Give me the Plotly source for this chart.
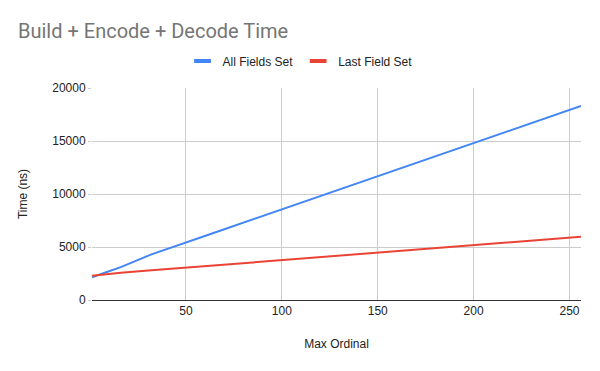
import plotly.graph_objects as go

ordinals = [1, 2, 4, 8, 16, 32, 64, 128, 256]
all_fields = [2130, 2200, 2350, 2600, 3100, 4300, 6300, 10300, 18300]
last_field = [2290, 2310, 2350, 2430, 2580, 2800, 3250, 4150, 5970]

series_names = ["All Fields Set", "Last Field Set"]
series_colors = ["#4285F4", "#EA4335"]

x_ticks = [50, 100, 150, 200, 250]
y_ticks = [0, 5000, 10000, 15000, 20000]
y_tick_labels = ["0", "5000", "10000", "15000", "20000"]

ARIAL = "Arial, Liberation Sans, sans-serif"

fig = go.Figure()
for name, vals, col in zip(series_names, [all_fields, last_field], series_colors):
    fig.add_trace(go.Scatter(x=ordinals, y=vals, mode="lines", name=name, showlegend=False,
                             line=dict(color=col, width=2)))
# legend-only entries with short thick bar symbols
for name, col in zip(series_names, series_colors):
    fig.add_trace(go.Scatter(x=[None], y=[None], mode="markers", name=name,
                             marker=dict(symbol="line-ew", size=12, color=col,
                                         line=dict(color=col, width=4))))

fig.update_layout(
    width=600, height=371,
    margin=dict(l=92, r=19, t=88, b=71, autoexpand=False),
    paper_bgcolor="white", plot_bgcolor="white",
    font=dict(family=ARIAL, size=12, color="#222222"),
    title=dict(text="Build + Encode + Decode Time", x=18/600, xanchor="left",
               y=1-31/371, yanchor="middle", automargin=False,
               font=dict(size=20, color="#757575", family="Roboto, Arial, sans-serif")),
    legend=dict(orientation="h", xref="container", x=0.5, xanchor="center",
                yref="container", y=1-61/371, yanchor="middle",
                font=dict(size=12, color="#222222", family=ARIAL)),
    showlegend=True,
)
fig.update_xaxes(range=[1, 256], tickvals=x_ticks, showgrid=True, gridcolor="#cccccc",
                 showline=True, linecolor="#333333", linewidth=1, zeroline=False,
                 ticks="", automargin=False, tickfont=dict(size=12, color="#222222", family=ARIAL),
                 title=dict(text="Max Ordinal", font=dict(size=12, color="#222222", family=ARIAL),
                            standoff=22))
fig.update_yaxes(range=[0, 20000], tickvals=y_ticks, ticktext=y_tick_labels, showgrid=True,
                 gridcolor="#cccccc", zeroline=False, ticks="outside", ticklen=3,
                 tickcolor="#cccccc", automargin=False,
                 tickfont=dict(size=12, color="#222222", family=ARIAL),
                 title=dict(text="Time (ns)", font=dict(size=12, color="#222222", family=ARIAL),
                            standoff=22))

fig.write_html("out.html", config={"displayModeBar": False},
               post_script="document.body.style.margin='0';")
